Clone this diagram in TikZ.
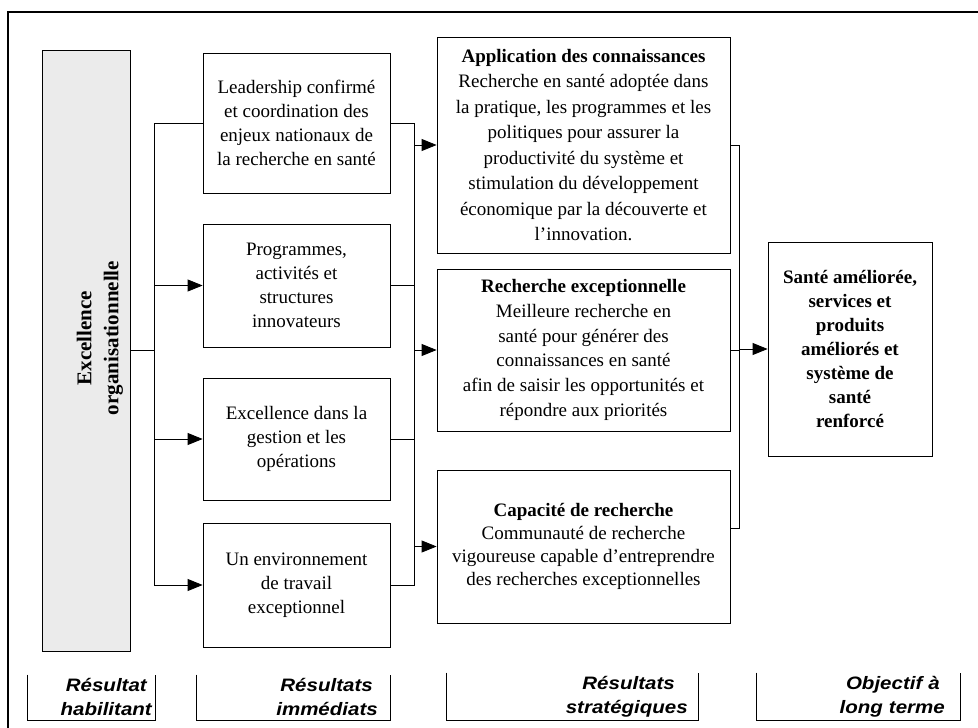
\documentclass[tikz,border=0pt]{standalone}
\usepackage{fontspec}
\setmainfont{Liberation Serif}
\newfontfamily\lblfont[FakeStretch=1.14]{Liberation Sans}
\usetikzlibrary{arrows.meta}
\newcommand{\padr}[1]{\rule{#1}{0pt}}
\begin{document}
\begin{tikzpicture}[x=1pt,y=-1pt,
  box/.style={draw, line width=0.8pt, align=center, inner sep=2pt, font=\fontsize{19}{24}\selectfont},
  conn/.style={line width=0.8pt},
  arr/.style={conn, -{Triangle[length=15pt,width=12pt]}},
  lbl/.style={inner sep=3pt, align=right, minimum height=45, anchor=south east, font=\lblfont\bfseries\itshape\fontsize{18}{24}\selectfont}]
\useasboundingbox (0,0) rectangle (978,728);
\draw[line width=1.4pt] (978,12) -- (8,12) -- (8,728);
% enabling bar
\node[draw, line width=0.8pt, fill=gray!16, minimum width=88, minimum height=601] (bar) at (86,350.5) {};
\node[rotate=90, align=center, font=\bfseries\fontsize{21}{27}\selectfont] (bartext) at (100,338) {Excellence\\organisationnelle};
% immediate results
\node[box, minimum width=187, minimum height=140] (L1) at (296.5,123) {Leadership confirmé\\et coordination des\\enjeux nationaux de\\la recherche en santé};
\node[box, minimum width=187, minimum height=123] (L2) at (296.5,285.5) {Programmes,\\activités et\\structures\\innovateurs};
\node[box, minimum width=187, minimum height=122] (L3) at (296.5,439) {Excellence dans la\\gestion et les\\opérations};
\node[box, minimum width=187, minimum height=124] (L4) at (296.5,585) {Un environnement\\de travail\\exceptionnel};
% strategic results
\node[box, minimum width=293, minimum height=216, font=\fontsize{19}{25.5}\selectfont] (M1) at (583.5,145) {\textbf{Application des connaissances}\\Recherche en santé adoptée dans\\la pratique, les programmes et les\\politiques pour assurer la\\productivité du système et\\stimulation du développement\\économique par la découverte et\\l'innovation.};
\node[box, minimum width=293, minimum height=162, font=\fontsize{19}{24.8}\selectfont] (M2) at (583.5,350) {\textbf{Recherche exceptionnelle}\\Meilleure recherche en\\santé pour générer des\\connaissances en santé\\afin de saisir les opportunités et\\répondre aux priorités};
\node[box, minimum width=293, minimum height=153, font=\fontsize{19}{23}\selectfont] (M3) at (583.5,546.5) {\textbf{Capacité de recherche}\\Communauté de recherche\\vigoureuse capable d'entreprendre\\des recherches exceptionnelles};
% long-term goal
\node[box, minimum width=164, minimum height=214, font=\bfseries\fontsize{19}{24}\selectfont] (F) at (850,349) {Santé améliorée,\\services et\\produits\\améliorés et\\système de\\santé\\renforcé};
% junction columns
\coordinate (jL) at (154,0);
\coordinate (jM) at (414,0);
\coordinate (jR) at (739,0);
\coordinate (c3) at (0,528);
% left connectors
\draw[conn] (bar.east) -- (bar.east -| jL);
\draw[conn] (L1.west) -- (L1.west -| jL) -- (L4.west -| jL);
\draw[arr] (L2.west -| jL) -- (L2.west);
\draw[arr] (L3.west -| jL) -- (L3.west);
\draw[arr] (L4.west -| jL) -- (L4.west);
% middle connectors
\draw[conn] (L1.east) -- (L1.east -| jM) -- (L4.east -| jM) -- (L4.east);
\draw[conn] (L2.east) -- (L2.east -| jM);
\draw[conn] (L3.east) -- (L3.east -| jM);
\draw[arr] (M1.west -| jM) -- (M1.west);
\draw[arr] (M2.west -| jM) -- (M2.west);
\draw[arr] (M3.west -| jM) -- (M3.west);
% right connectors
\draw[conn] (M1.east) -- (M1.east -| jR) -- (jR |- c3) -- (M3.east |- c3);
\draw[conn] (M2.east) -- (M2.east -| jR);
\draw[arr] (F.west -| jR) -- (F.west);
% column labels
\node[lbl, text width=121] (T1) at (155,720) {Résultat\padr{5pt}\\habilitant};
\node[lbl, text width=187] (T2) at (390,720) {Résultats\padr{14pt}\\immédiats\padr{9pt}};
\node[lbl, text width=245] (T3) at (698,720) {Résultats\padr{20pt}\\stratégiques\padr{7pt}};
\node[lbl, text width=197] (T4) at (960,720) {Objectif à\padr{17pt}\\long terme\padr{12pt}};
\foreach \t in {T1,T2,T3,T4}
  \draw[conn] (\t.north west) -- (\t.south west) -- (\t.south east) -- (\t.north east);
\end{tikzpicture}
\end{document}
